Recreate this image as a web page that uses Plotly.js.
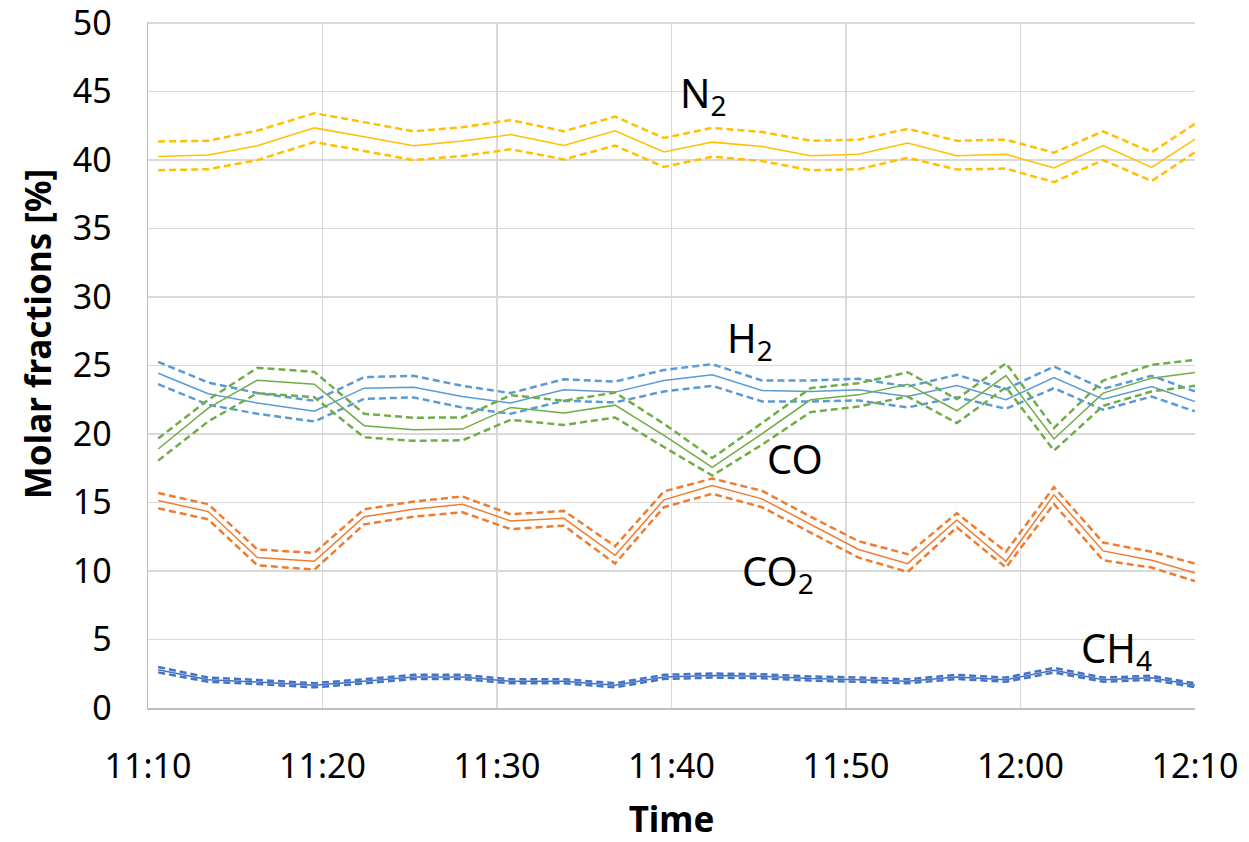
<!DOCTYPE html>
<html>
<head>
<meta charset="utf-8">
<script src="https://cdn.plot.ly/plotly-3.0.1.min.js"></script>
<style>html,body{margin:0;padding:0;background:#fff;}#chart{width:1249px;height:842px;}</style>
</head>
<body>
<div id="chart"></div>
<script>
const times = ['2000-01-01 11:10:35','2000-01-01 11:13:27','2000-01-01 11:16:16','2000-01-01 11:19:32','2000-01-01 11:22:23','2000-01-01 11:25:13','2000-01-01 11:28:01','2000-01-01 11:30:47','2000-01-01 11:33:50','2000-01-01 11:36:46','2000-01-01 11:39:34','2000-01-01 11:42:20','2000-01-01 11:45:11','2000-01-01 11:47:58','2000-01-01 11:50:43','2000-01-01 11:53:32','2000-01-01 11:56:21','2000-01-01 11:59:10','2000-01-01 12:01:55','2000-01-01 12:04:44','2000-01-01 12:07:31','2000-01-01 12:10:00'];

const n2 = [40.27,40.37,41.04,42.35,41.70,41.04,41.39,41.86,41.06,42.13,40.59,41.31,40.99,40.32,40.42,41.24,40.32,40.42,39.43,41.06,39.46,41.53];
const n2Upper = [41.36,41.41,42.15,43.42,42.77,42.10,42.40,42.92,42.10,43.17,41.61,42.35,42.05,41.41,41.49,42.28,41.41,41.49,40.54,42.10,40.57,42.65];
const n2Lower = [39.26,39.33,40.00,41.31,40.67,40.00,40.30,40.79,40.05,41.06,39.50,40.25,39.93,39.26,39.33,40.17,39.31,39.38,38.39,40.00,38.47,40.57];

const h2 = [24.44,22.94,22.26,21.67,23.35,23.42,22.74,22.26,23.23,23.06,23.91,24.32,23.18,23.11,23.23,22.74,23.54,22.50,24.13,22.55,23.47,22.38];
const h2Upper = [25.27,23.76,22.99,22.43,24.15,24.25,23.52,22.99,24.00,23.83,24.68,25.10,23.91,23.91,24.03,23.47,24.32,23.28,24.93,23.30,24.25,23.11];
const h2Lower = [23.64,22.14,21.48,20.92,22.57,22.67,21.94,21.48,22.43,22.31,23.11,23.52,22.38,22.38,22.45,21.94,22.69,21.84,23.35,21.77,22.74,21.65];

const co = [18.91,21.89,23.93,23.64,20.61,20.32,20.36,21.94,21.53,22.11,19.90,17.57,20.02,22.50,22.86,23.64,21.70,24.27,19.64,22.99,24.08,24.49];
const coUpper = [19.68,22.50,24.83,24.54,21.48,21.19,21.21,22.84,22.43,23.03,20.75,18.25,20.80,23.35,23.71,24.51,22.55,25.17,20.44,23.91,25.05,25.41];
const coLower = [18.06,20.92,22.99,22.69,19.76,19.51,19.54,21.04,20.66,21.21,19.05,16.97,19.22,21.60,22.01,22.74,20.80,23.42,18.79,22.06,23.11,23.52];

const co2 = [15.15,14.34,10.98,10.71,13.97,14.51,14.88,13.65,13.85,11.15,15.20,16.25,15.27,13.41,11.57,10.54,13.73,10.71,15.56,11.47,10.78,9.85];
const co2Upper = [15.69,14.88,11.57,11.32,14.51,15.07,15.44,14.14,14.39,11.81,15.81,16.75,15.86,13.97,12.18,11.23,14.22,11.40,16.13,12.08,11.40,10.54];
const co2Lower = [14.58,13.77,10.42,10.10,13.41,13.97,14.29,13.06,13.31,10.54,14.66,15.64,14.66,12.79,10.98,9.93,13.19,10.25,14.90,10.78,10.25,9.26];

const ch4 = [2.80,2.07,1.90,1.66,1.95,2.27,2.27,1.95,1.95,1.66,2.27,2.37,2.32,2.15,2.07,1.95,2.27,2.07,2.76,2.07,2.20,1.66];
const ch4Upper = [3.00,2.22,2.05,1.81,2.10,2.42,2.42,2.10,2.10,1.81,2.42,2.52,2.47,2.30,2.22,2.10,2.42,2.22,2.93,2.22,2.35,1.80];
const ch4Lower = [2.60,1.92,1.75,1.51,1.80,2.12,2.12,1.80,1.80,1.51,2.12,2.22,2.17,2.00,1.92,1.80,2.12,1.92,2.59,1.92,2.05,1.52];

const yTicks = [0,5,10,15,20,25,30,35,40,45,50];

const gases = [
  {name:'N2', mid:n2, up:n2Upper, lo:n2Lower, color:'#FFC000'},
  {name:'H2', mid:h2, up:h2Upper, lo:h2Lower, color:'#5B9BD5'},
  {name:'CO', mid:co, up:coUpper, lo:coLower, color:'#70AD47'},
  {name:'CO2', mid:co2, up:co2Upper, lo:co2Lower, color:'#ED7D31'},
  {name:'CH4', mid:ch4, up:ch4Upper, lo:ch4Lower, color:'#4472C4'}
];

const traces = [];
gases.forEach(g => {
  traces.push({x:times, y:g.up, mode:'lines', name:g.name+' upper', line:{color:g.color, width:2.5, dash:'7px,4px'}, hoverinfo:'skip'});
  traces.push({x:times, y:g.lo, mode:'lines', name:g.name+' lower', line:{color:g.color, width:2.5, dash:'7px,4px'}, hoverinfo:'skip'});
  traces.push({x:times, y:g.mid, mode:'lines', name:g.name, line:{color:g.color, width:1.5}});
});

const FONT = 'Noto Sans, Open Sans, sans-serif';
const annFont = {family:FONT, size:40, color:'#000'};
const labels = [
  {text:'N<sub>2</sub>', x:'2000-01-01 11:41:50', y:44.8},
  {text:'H<sub>2</sub>', x:'2000-01-01 11:44:30', y:26.9},
  {text:'CO', x:'2000-01-01 11:47:06', y:18.2},
  {text:'CO<sub>2</sub>', x:'2000-01-01 11:46:05', y:9.9},
  {text:'CH<sub>4</sub>', x:'2000-01-01 12:05:30', y:4.3}
];

const annotations = labels.map(l => ({text:l.text, x:l.x, y:l.y, xref:'x', yref:'y', showarrow:false, font:annFont, xanchor:'center', yanchor:'middle'}));
annotations.push({
  text:'<b>Molar fractions [%]</b>', xref:'paper', yref:'paper', x:-0.106, y:0.545,
  textangle:-90, showarrow:false, xanchor:'center', yanchor:'middle',
  font:{size:35, family:FONT, color:'#000'}
});

const layout = {
  width:1249, height:842,
  margin:{l:148, r:54, t:22, b:134},
  paper_bgcolor:'#fff', plot_bgcolor:'#fff',
  showlegend:false,
  font:{family:FONT, color:'#000'},
  xaxis:{
    type:'date',
    range:['2000-01-01 11:10:00','2000-01-01 12:10:00'],
    tickformat:'%H:%M', dtick:600000, tick0:'2000-01-01 11:10:00',
    showgrid:true, gridcolor:'#D9D9D9', gridwidth:1.5,
    showline:true, linecolor:'#BFBFBF', linewidth:1.5,
    ticks:'', ticklabelstandoff:28, ticklabeloverflow:'allow',
    tickfont:{size:34, family:FONT, color:'#000'},
    zeroline:false,
    title:{text:'<b>Time</b>', font:{size:35, family:FONT, color:'#000'}, standoff:21}
  },
  yaxis:{
    range:[0,50.08],
    tickmode:'array', tickvals:yTicks, ticktext:yTicks.map(String),
    showgrid:true, gridcolor:'#D9D9D9', gridwidth:1.5,
    showline:true, linecolor:'#BFBFBF', linewidth:1.5,
    ticks:'', zeroline:false, ticklabelstandoff:28, ticklabeloverflow:'allow',
    tickfont:{size:34, family:FONT, color:'#000'}
  },
  annotations: annotations
};

Plotly.newPlot('chart', traces, layout, {displayModeBar:false, staticPlot:true});
</script>
</body>
</html>
